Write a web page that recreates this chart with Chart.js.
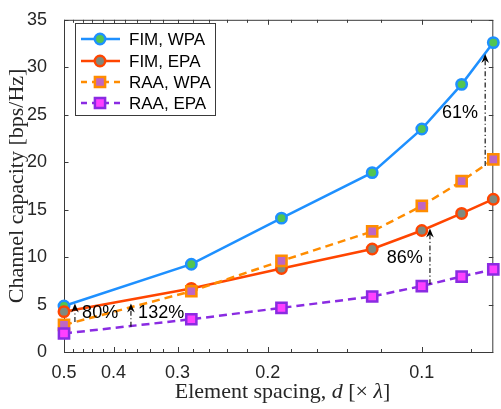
<!DOCTYPE html>
<html lang="en">
<head>
<meta charset="UTF-8">
<title>Channel capacity vs element spacing</title>
<script src="https://cdn.jsdelivr.net/npm/chart.js"></script>
<style>
  html, body { margin: 0; padding: 0; background: #fff; overflow: hidden; }
  #wrap { width: 501px; height: 409px; overflow: hidden; }
</style>
</head>
<body>
<div id="wrap"><canvas id="capChart" width="503" height="409"></canvas></div>
<script>
// element spacing d (x lambda) and capacities [bps/Hz]
const spacing = [0.5, 0.282, 0.188, 0.125, 0.1, 0.0836, 0.0725];
const fimWpa = [4.85, 9.25, 14.1, 18.9, 23.5, 28.2, 32.6];
const fimEpa = [4.25, 6.7, 8.8, 10.85, 12.8, 14.6, 16.1];
const raaWpa = [2.85, 6.4, 9.6, 12.7, 15.4, 18.0, 20.3];
const raaEpa = [1.95, 3.45, 4.65, 5.85, 6.95, 7.95, 8.7];

const xMajorTicks = [0.5, 0.4, 0.3, 0.2, 0.1];
const xMinorTicks = [0.48, 0.46, 0.44, 0.42, 0.38, 0.36, 0.34, 0.32, 0.28, 0.26, 0.24, 0.22,
                     0.18, 0.16, 0.14, 0.12, 0.08];
const yTicks = [0, 5, 10, 15, 20, 25, 30, 35];

// gain arrows (data coordinates)
const gainX = [0.476, 0.37, 0.0964, 0.0752];
const gainFrom = [3.15, 2.65, 7.15, 19.6];
const gainTo = [5.1, 5.1, 13.0, 31.4];
const gainText = ['80%', '132%', '86%', '61%'];
const gainLabelX = [0.425, 0.323, 0.108, 0.0842];
const gainLabelY = [4.1, 4.1, 9.9, 25.2];

const axisColor = '#3a3a3a';
const textColor = '#262626';

function series(vals) {
    return spacing.map((d, i) => ({ x: d, y: vals[i] }));
}

const datasets = [
    { label: 'FIM, WPA', data: series(fimWpa), borderColor: '#1e90ff', pointBackgroundColor: '#52c552',
      pointStyle: 'circle', pointRadius: 5.2, borderDash: [], order: 4 },
    { label: 'FIM, EPA', data: series(fimEpa), borderColor: '#ff4500', pointBackgroundColor: '#7f8a7f',
      pointStyle: 'circle', pointRadius: 5.2, borderDash: [], order: 3 },
    { label: 'RAA, WPA', data: series(raaWpa), borderColor: '#ff8c00', pointBackgroundColor: '#bf66c4',
      pointStyle: 'rect', pointRadius: 7.2, borderDash: [8, 5], order: 2 },
    { label: 'RAA, EPA', data: series(raaEpa), borderColor: '#8a2be2', pointBackgroundColor: '#ff40ff',
      pointStyle: 'rect', pointRadius: 7.2, borderDash: [8, 5], order: 1 }
].map(ds => Object.assign(ds, {
    borderWidth: 2.5,
    pointBorderColor: ds.borderColor,
    pointBorderWidth: 2.5,
    backgroundColor: ds.borderColor,
    tension: 0,
    clip: false
}));

// box + inward ticks, drawn under the data
const framePlugin = {
    id: 'frame',
    beforeDatasetsDraw(chart) {
        const { ctx, chartArea: a, scales } = chart;
        ctx.save();
        ctx.strokeStyle = axisColor;
        ctx.lineWidth = 1;
        ctx.strokeRect(a.left + 0.5, a.top + 0.5, a.right - a.left - 1, a.bottom - a.top);
        ctx.beginPath();
        const xt = xMajorTicks.map(v => [v, 5]).concat(xMinorTicks.map(v => [v, 3]));
        xt.forEach(([v, len]) => {
            const px = Math.round(scales.x.getPixelForValue(v)) + 0.5;
            ctx.moveTo(px, a.bottom); ctx.lineTo(px, a.bottom - len);
            ctx.moveTo(px, a.top); ctx.lineTo(px, a.top + len);
        });
        yTicks.forEach(v => {
            const py = Math.round(scales.y.getPixelForValue(v)) + 0.5;
            ctx.moveTo(a.left, py); ctx.lineTo(a.left + 4.5, py);
            ctx.moveTo(a.right, py); ctx.lineTo(a.right - 4.5, py);
        });
        ctx.stroke();
        ctx.restore();
    }
};

// gain arrows, legend, axis titles
const overlayPlugin = {
    id: 'overlay',
    afterDatasetsDraw(chart) {
        const { ctx, scales } = chart;
        ctx.save();
        gainX.forEach((gx, i) => {
            const px = scales.x.getPixelForValue(gx);
            const y0 = scales.y.getPixelForValue(gainFrom[i]);
            const y1 = scales.y.getPixelForValue(gainTo[i]);
            ctx.strokeStyle = '#000';
            ctx.lineWidth = 1.1;
            ctx.setLineDash([5, 2.5, 1.2, 2.5]);
            ctx.beginPath();
            ctx.moveTo(px, y0);
            ctx.lineTo(px, y1 + 6);
            ctx.stroke();
            ctx.setLineDash([]);
            ctx.fillStyle = '#000';
            ctx.beginPath();
            ctx.moveTo(px, y1);
            ctx.lineTo(px - 3.8, y1 + 9);
            ctx.lineTo(px, y1 + 6);
            ctx.lineTo(px + 3.8, y1 + 9);
            ctx.closePath();
            ctx.fill();
            ctx.font = '18px "Liberation Sans", Arial, sans-serif';
            ctx.textAlign = 'center';
            ctx.textBaseline = 'middle';
            ctx.fillText(gainText[i], scales.x.getPixelForValue(gainLabelX[i]),
                         scales.y.getPixelForValue(gainLabelY[i]));
        });

        // legend
        ctx.fillStyle = '#fff';
        ctx.fillRect(75.5, 23.5, 140, 92);
        ctx.strokeStyle = axisColor;
        ctx.lineWidth = 1;
        ctx.strokeRect(75.5, 23.5, 140, 92);
        const rows = [39, 61, 82, 103];
        datasets.forEach((ds, i) => {
            const y = rows[i];
            ctx.strokeStyle = ds.borderColor;
            ctx.lineWidth = ds.borderWidth;
            ctx.setLineDash(ds.borderDash.length ? [6, 5] : []);
            ctx.beginPath();
            ctx.moveTo(81, y); ctx.lineTo(120, y);
            ctx.stroke();
            ctx.setLineDash([]);
            ctx.fillStyle = ds.pointBackgroundColor;
            ctx.lineWidth = ds.pointBorderWidth;
            Chart.helpers.drawPoint(ctx, { pointStyle: ds.pointStyle, radius: ds.pointRadius,
                                           borderWidth: ds.pointBorderWidth }, 100, y);
            ctx.fillStyle = '#000';
            ctx.font = '17px "Liberation Sans", Arial, sans-serif';
            ctx.textAlign = 'left';
            ctx.textBaseline = 'middle';
            ctx.fillText(ds.label, 129, y + 1);
        });
        ctx.restore();
    },
    afterDraw(chart) {
        const { ctx, chartArea: a } = chart;
        ctx.save();
        ctx.fillStyle = textColor;
        ctx.textBaseline = 'middle';
        const serif = '"Liberation Serif", "Times New Roman", serif';
        // x title with italic d and lambda
        const parts = [
            ['Element spacing, ', '22px ' + serif],
            ['d', 'italic 22px ' + serif],
            [' [\u00d7 ', '22px ' + serif],
            ['\u03bb', 'italic 22px ' + serif],
            [']', '22px ' + serif]
        ];
        let total = 0;
        parts.forEach(p => { ctx.font = p[1]; total += ctx.measureText(p[0]).width; });
        let x = (a.left + 501) / 2 - total / 2;
        ctx.textAlign = 'left';
        parts.forEach(p => { ctx.font = p[1]; ctx.fillText(p[0], x, 392); x += ctx.measureText(p[0]).width; });
        // y title
        ctx.translate(17, (a.top + a.bottom) / 2);
        ctx.rotate(-Math.PI / 2);
        ctx.textAlign = 'center';
        ctx.font = '22px ' + serif;
        ctx.fillText('Channel capacity [bps/Hz]', 0, 0);
        ctx.restore();
    }
};

new Chart(document.getElementById('capChart'), {
    type: 'line',
    data: { datasets: datasets },
    options: {
        responsive: false,
        animation: false,
        devicePixelRatio: 1,
        layout: { padding: { top: 15, right: 2, left: 0, bottom: 0 } },
        plugins: { legend: { display: false }, tooltip: { enabled: false } },
        scales: {
            x: {
                type: 'logarithmic',
                reverse: true,
                bounds: 'data',
                min: spacing[spacing.length - 1],
                max: spacing[0],
                afterBuildTicks: s => { s.ticks = xMajorTicks.concat(xMinorTicks).map(v => ({ value: v })); },
                afterFit: s => { s.height = 57; },
                grid: { display: false },
                border: { display: false },
                ticks: {
                    autoSkip: false,
                    maxRotation: 0,
                    padding: 2,
                    color: textColor,
                    font: { family: '"Liberation Sans", Arial, sans-serif', size: 18 },
                    callback: v => xMajorTicks.includes(v) ? String(v) : ''
                }
            },
            y: {
                min: 0,
                max: 35,
                afterBuildTicks: s => { s.ticks = yTicks.map(v => ({ value: v })); },
                afterFit: s => { s.width = 64; },
                grid: { display: false },
                border: { display: false },
                ticks: {
                    padding: 9,
                    color: textColor,
                    font: { family: '"Liberation Sans", Arial, sans-serif', size: 18 }
                }
            }
        }
    },
    plugins: [framePlugin, overlayPlugin]
});
</script>
</body>
</html>
